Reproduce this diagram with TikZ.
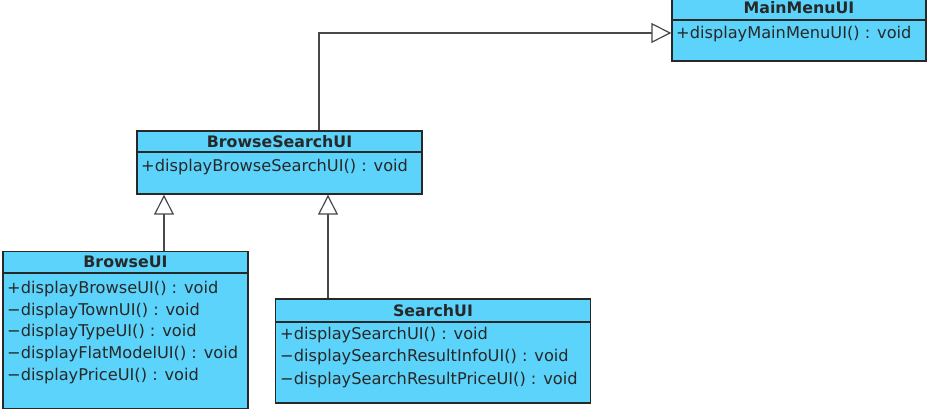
\documentclass[tikz,border=0pt]{standalone}
\usepackage{fontspec}
\setmainfont{DejaVu Sans}
\usepackage{tikz}
\usetikzlibrary{arrows.meta}
\definecolor{uiblue}{RGB}{91,211,250}
\definecolor{uiline}{RGB}{40,40,40}

\begin{document}
\begin{tikzpicture}[x=1pt, y=-1pt,
    classbox/.style={draw=uiline, fill=uiblue, line width=1.4pt, inner sep=0pt},
    classname/.style={inner sep=0pt, font=\bfseries\fontsize{15.8}{17}\selectfont, text=uiline},
    method/.style={anchor=west, inner sep=0pt, font=\fontsize{16.2}{18}\selectfont, text=uiline},
    inherit/.style={draw=uiline!85, line width=1.2pt, -{Triangle[open, width=20pt, length=20pt, fill=white]}}]
    \useasboundingbox (0,0) rectangle (932,411);

    % MainMenuUI - top right, cut by the page edge
    \node[classbox, minimum width=254, minimum height=63] (mainmenu) at (799,29.5) {};
    \draw[uiline, line width=1.4pt] (mainmenu.west |- 0,20) -- (mainmenu.east |- 0,20);
    \node[classname] (mainmenu-t) at (799,8) {MainMenuUI};
    \node[method] (mainmenu-m1) at (676,34) {+displayMainMenuUI() : void};

    % BrowseSearchUI
    \node[classbox, minimum width=285, minimum height=63] (bsearch) at (279.5,162.5) {};
    \draw[uiline, line width=1.4pt] (bsearch.west |- 0,152) -- (bsearch.east |- 0,152);
    \node[classname] (bsearch-t) at (279.5,142) {BrowseSearchUI};
    \node[method] (bsearch-m1) at (141,167) {+displayBrowseSearchUI() : void};

    % BrowseUI - bottom left
    \node[classbox, minimum width=245, minimum height=157] (browse) at (125.5,330) {};
    \draw[uiline, line width=1.4pt] (browse.west |- 0,273) -- (browse.east |- 0,273);
    \node[classname] (browse-t) at (125.5,262) {BrowseUI};
    \foreach \name [count=\i from 0] in {+displayBrowseUI() : void, −displayTownUI() : void,
        −displayTypeUI() : void, −displayFlatModelUI() : void, −displayPriceUI() : void}
        \node[method] (browse-m\i) at (7,289+21.7*\i) {\name};

    % SearchUI
    \node[classbox, minimum width=315, minimum height=104] (search) at (433,351) {};
    \draw[uiline, line width=1.4pt] (search.west |- 0,322) -- (search.east |- 0,322);
    \node[classname] (search-t) at (433,311) {SearchUI};
    \foreach \name [count=\i from 0] in {+displaySearchUI() : void,
        −displaySearchResultInfoUI() : void, −displaySearchResultPriceUI() : void}
        \node[method] (search-m\i) at (280,335+22.5*\i) {\name};

    % Generalisations
    \draw[inherit] ([xshift=38.5]browse.north) -- ([xshift=38.5]browse.north |- bsearch.south);
    \draw[inherit] ([xshift=-105]search.north) -- ([xshift=-105]search.north |- bsearch.south);
    \draw[inherit] ([xshift=39.5]bsearch.north) |- ([yshift=-3.5]mainmenu.west);
\end{tikzpicture}
\end{document}
